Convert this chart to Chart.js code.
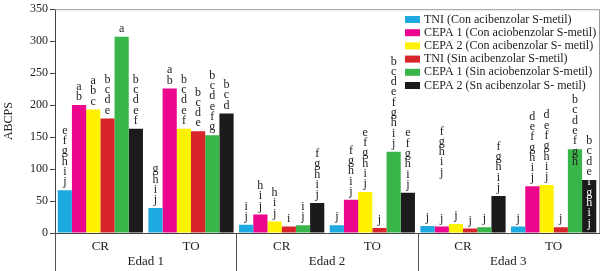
<!DOCTYPE html>
<html>
<head>
<meta charset="utf-8">
<script src="https://cdn.jsdelivr.net/npm/chart.js@4/dist/chart.umd.min.js"></script>
<style>
  body { margin: 0; background: #fff; }
  #wrap { width: 604px; height: 271px; position: relative; }
</style>
</head>
<body>
<div id="wrap"><canvas id="abcpsChart"></canvas></div>
<script>
// Categorias del eje x (tratamiento) y grupo de edad
const categorias = ["CR", "TO", "CR", "TO", "CR", "TO"];
const edades = ["Edad 1", "Edad 2", "Edad 3"];

// Nombres de las series (tal cual aparecen en la leyenda)
const series = [
  "TNI (Con acibenzolar S-metil)",
  "CEPA 1 (Con aciobenzolar S-metil)",
  "CEPA 2 (Con acibenzolar S- metil)",
  "TNI (Sin acibenzolar S-metil)",
  "CEPA 1 (Sin aciobenzolar S-metil)",
  "CEPA 2 (Sn acibenzolar S- metil)"
];

// Valores ABCPS por serie (CR/TO de Edad 1, 2 y 3)
const tniCon   = [67, 39, 13, 12, 11, 10];
const cepa1Con = [200, 226, 29, 52, 10, 73];
const cepa2Con = [193, 163, 18, 64, 14, 75];
const tniSin   = [179, 159, 10, 8, 7, 9];
const cepa1Sin = [307, 153, 12, 127, 9, 131];
const cepa2Sin = [163, 187, 47, 63, 58, 83];

// Letras de significancia sobre cada barra
const letrasTniCon   = ["efghij", "ghij", "ij", "j", "j", "j"];
const letrasCepa1Con = ["ab", "ab", "hij", "fghij", "j", "defghij"];
const letrasCepa2Con = ["abc", "bcdef", "hij", "efghij", "j", "defghij"];
const letrasTniSin   = ["bcde", "bcde", "i", "j", "j", "j"];
const letrasCepa1Sin = ["a", "bcdefg", "ij", "bcdefghij", "j", "bcdefgh"];
const letrasCepa2Sin = ["bcdef", "bcd", "fghij", "efghij", "fghij", "bcdefghij"];

// Letras sueltas (serie, categoria, texto, valor de la base)
const letrasSueltas = [{ serie: 1, cat: 4, texto: "fghij", valor: 82 }];
// Letras que se montan sobre la barra (serie, categoria, cuantas)
const letrasHundidas = [{ serie: 4, cat: 5, n: 2 }, { serie: 5, cat: 5, n: 5 }];

const valores = [tniCon, cepa1Con, cepa2Con, tniSin, cepa1Sin, cepa2Sin];
const letras = [letrasTniCon, letrasCepa1Con, letrasCepa2Con, letrasTniSin, letrasCepa1Sin, letrasCepa2Sin];
const colores = ["#1fa9e1", "#ec068d", "#fff200", "#d7232a", "#3ab54a", "#1c1a1b"];

const fuente = "'Liberation Serif', 'DejaVu Serif', serif";
const PASO = 10.3;

const extras = {
  id: "extras",
  afterDatasetsDraw(chart) {
    const c = chart.ctx;
    const area = chart.chartArea;
    const x = chart.scales.x;
    const y = chart.scales.y;
    c.save();

    // marco superior y derecho
    c.strokeStyle = "#999";
    c.lineWidth = 1;
    c.beginPath();
    c.moveTo(area.left, area.top + 0.5);
    c.lineTo(area.right + 0.5, area.top + 0.5);
    c.lineTo(area.right + 0.5, area.bottom);
    c.stroke();

    // letras de significancia
    c.font = "12px " + fuente;
    c.textAlign = "center";
    c.textBaseline = "middle";
    const dibujarLetras = (txt, cx, base, topeBarra, oscura) => {
      for (let k = 0; k < txt.length; k++) {
        const cy = base - (txt.length - 1 - k) * PASO;
        c.fillStyle = (oscura && cy > topeBarra) ? "#fff" : "#222";
        c.fillText(txt[k], cx, cy);
      }
    };
    valores.forEach((serie, i) => {
      const meta = chart.getDatasetMeta(i);
      meta.data.forEach((bar, j) => {
        const h = letrasHundidas.find(e => e.serie === i && e.cat === j);
        const base = bar.y - 8 + (h ? h.n * PASO : 0);
        dibujarLetras(letras[i][j], bar.x, base, bar.y, i === 5);
      });
    });
    letrasSueltas.forEach(e => {
      const bar = chart.getDatasetMeta(e.serie).data[e.cat];
      dibujarLetras(e.texto, bar.x, y.getPixelForValue(e.valor) - 8, 0, false);
    });

    // separadores y etiquetas de edad
    c.strokeStyle = "#555";
    c.fillStyle = "#222";
    c.font = "13px " + fuente;
    const bordes = [area.left];
    for (let g = 1; g < edades.length; g++) {
      bordes.push((x.getPixelForValue(2 * g - 1) + x.getPixelForValue(2 * g)) / 2);
    }
    bordes.forEach(bx => {
      c.beginPath();
      c.moveTo(Math.round(bx) + 0.5, area.bottom);
      c.lineTo(Math.round(bx) + 0.5, chart.height);
      c.stroke();
    });
    edades.forEach((ed, g) => {
      const cx = (x.getPixelForValue(2 * g) + x.getPixelForValue(2 * g + 1)) / 2;
      c.fillText(ed, cx, 262);
    });

    // leyenda
    c.font = "12px " + fuente;
    c.textAlign = "left";
    series.forEach((s, i) => {
      const cy = 19.5 + i * 13.2;
      c.fillStyle = colores[i];
      c.fillRect(405, cy - 3.5, 15, 7);
      c.fillStyle = "#222";
      c.fillText(s, 424, cy);
    });
    c.restore();
  }
};

new Chart(document.getElementById("abcpsChart"), {
  type: "bar",
  data: {
    labels: categorias,
    datasets: series.map((s, i) => ({
      label: s,
      data: valores[i],
      backgroundColor: colores[i],
      borderWidth: 0,
      barPercentage: 1,
      categoryPercentage: 0.94
    }))
  },
  options: {
    responsive: true,
    maintainAspectRatio: false,
    animation: false,
    layout: { padding: { top: 7, right: 5, left: 0, bottom: 0 } },
    plugins: {
      legend: { display: false },
      tooltip: { enabled: false }
    },
    scales: {
      x: {
        afterFit: (s) => { s.height = 38; },
        grid: { display: false, drawTicks: false },
        border: { display: true, color: "#444" },
        ticks: { padding: 6, color: "#222", font: { family: fuente, size: 13 } }
      },
      y: {
        min: 0,
        max: 350,
        afterFit: (s) => { s.width = 55; },
        ticks: { stepSize: 50, padding: 2, color: "#222", font: { family: fuente, size: 12 } },
        grid: { drawOnChartArea: false, tickLength: 5, color: "#444" },
        border: { display: true, color: "#444" },
        title: {
          display: true,
          text: "ABCPS",
          color: "#222",
          padding: 2,
          font: { family: fuente, size: 12 }
        }
      }
    }
  },
  plugins: [extras]
});
</script>
</body>
</html>
